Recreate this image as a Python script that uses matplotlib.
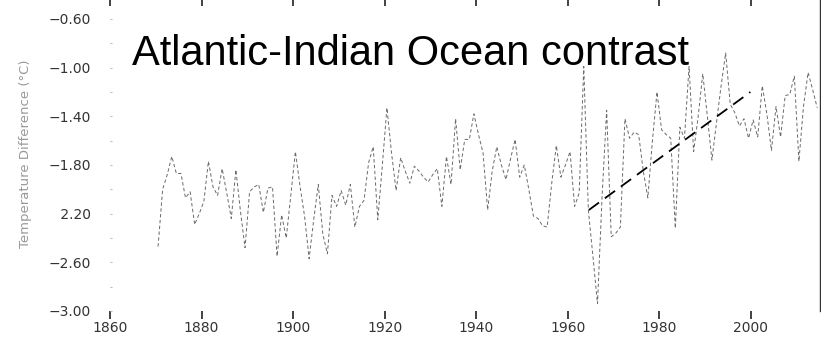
import numpy as np
import matplotlib
matplotlib.use("Agg")
import matplotlib.pyplot as plt

# Atlantic minus Indian Ocean temperature difference, annual values
years = np.arange(1870, 2015)
diff = [
    -2.47, -2.00, -1.88, -1.73, -1.87, -1.87, -2.07, -2.02, -2.29, -2.20,  # 1870s
    -2.10, -1.77, -1.98, -2.05, -1.83, -2.03, -2.24, -1.84, -2.18, -2.48,  # 1880s
    -2.02, -1.98, -1.96, -2.19, -1.99, -1.98, -2.55, -2.21, -2.40, -2.05,  # 1890s
    -1.69, -1.97, -2.22, -2.57, -2.25, -1.96, -2.37, -2.53, -2.05, -2.14,  # 1900s
    -2.01, -2.13, -1.96, -2.31, -2.14, -2.09, -1.78, -1.65, -2.25, -1.80,  # 1910s
    -1.33, -1.70, -2.01, -1.74, -1.85, -1.95, -1.81, -1.85, -1.90, -1.94,  # 1920s
    -1.88, -1.83, -2.14, -1.73, -1.96, -1.42, -1.84, -1.59, -1.59, -1.38,  # 1930s
    -1.55, -1.70, -2.17, -1.85, -1.65, -1.80, -1.92, -1.75, -1.59, -1.90,  # 1940s
    -1.80, -2.00, -2.22, -2.24, -2.30, -2.31, -1.95, -1.64, -1.90, -1.80,  # 1950s
    -1.69, -2.14, -2.03, -0.99, -2.17, -2.55, -2.94, -2.06, -1.35, -2.39,  # 1960s
    -2.36, -2.31, -1.42, -1.58, -1.53, -1.55, -1.85, -2.07, -1.60, -1.20,  # 1970s
    -1.51, -1.55, -1.58, -2.32, -1.49, -1.58, -0.99, -1.69, -1.40, -1.05,  # 1980s
    -1.40, -1.76, -1.45, -1.15, -0.88, -1.30, -1.37, -1.48, -1.42, -1.58,  # 1990s
    -1.43, -1.57, -1.15, -1.38, -1.68, -1.32, -1.57, -1.23, -1.22, -1.07,  # 2000s
    -1.77, -1.32, -1.04, -1.18, -1.33,                                      # 2010s
]

# linear trend drawn over the recent period
trend_years = [1964.6, 1999.9]
trend_vals = [-2.17, -1.20]

xticks = [1860, 1880, 1900, 1920, 1940, 1960, 1980, 2000]
yticks = [-3.0, -2.6, -2.2, -1.8, -1.4, -1.0, -0.6]
ytick_labels = ["\u22123.00", "\u22122.60", " 2.20", "\u22121.80", "\u22121.40", "\u22121.00", "\u22120.60"]

fig = plt.figure(figsize=(8.21, 3.39), dpi=100)
ax = fig.add_axes([110 / 821, 28 / 339, 709.5 / 821, 311 / 339])

ax.plot(years + 0.5, diff, color="#6a6a6a", lw=0.7, dashes=(3.5, 2.5))
ax.plot(trend_years, trend_vals, color="black", lw=1.3, dashes=(7, 4))

ax.set_xlim(1860, 2015)
ax.set_ylim(-3.0, -0.444)

for side in ["left", "top", "bottom"]:
    ax.spines[side].set_visible(False)
ax.spines["right"].set_color("#333333")
ax.spines["right"].set_linewidth(1.0)

ax.set_xticks(xticks)
ax.set_xticklabels([str(x) for x in xticks])
ax.tick_params(axis="x", which="major", top=True, bottom=True, direction="inout",
               length=10, width=1.2, color="#222222", pad=2,
               labelsize=10, labelcolor="#333333")
for t in ax.xaxis.get_major_ticks():
    t.tick1line.set_marker(3)  # bottom tick hanging below the axis
    t.tick1line.set_markersize(6)
    t.tick2line.set_marker(3)  # top tick pointing down from the edge
    t.tick2line.set_markersize(4.5)
# the 1860 and 1940 ticks are barely visible in the original
for i in (0, 4):
    ax.xaxis.get_major_ticks()[i].tick1line.set_color("#dddddd")
    ax.xaxis.get_major_ticks()[i].tick2line.set_color("#dddddd")

ax.set_yticks(yticks)
ax.set_yticklabels(ytick_labels)
ax.set_yticks(np.arange(-2.8, -0.6, 0.4), minor=True)
ax.tick_params(axis="y", which="both", direction="in", length=1.5, width=0.8,
               color="#bbbbbb", pad=14, labelsize=10, labelcolor="#333333")

fig.text(25 / 821, 1 - 154 / 339, "Temperature Difference (\u00b0C)", rotation=90,
         ha="center", va="center", fontsize=9.5, color="#999999")

fig.text(132 / 821, 1 - 65 / 339, "Atlantic-Indian Ocean contrast",
         fontsize=30, family="Liberation Sans", va="baseline", color="black")

fig.savefig("out.png", dpi=100, facecolor="white")
